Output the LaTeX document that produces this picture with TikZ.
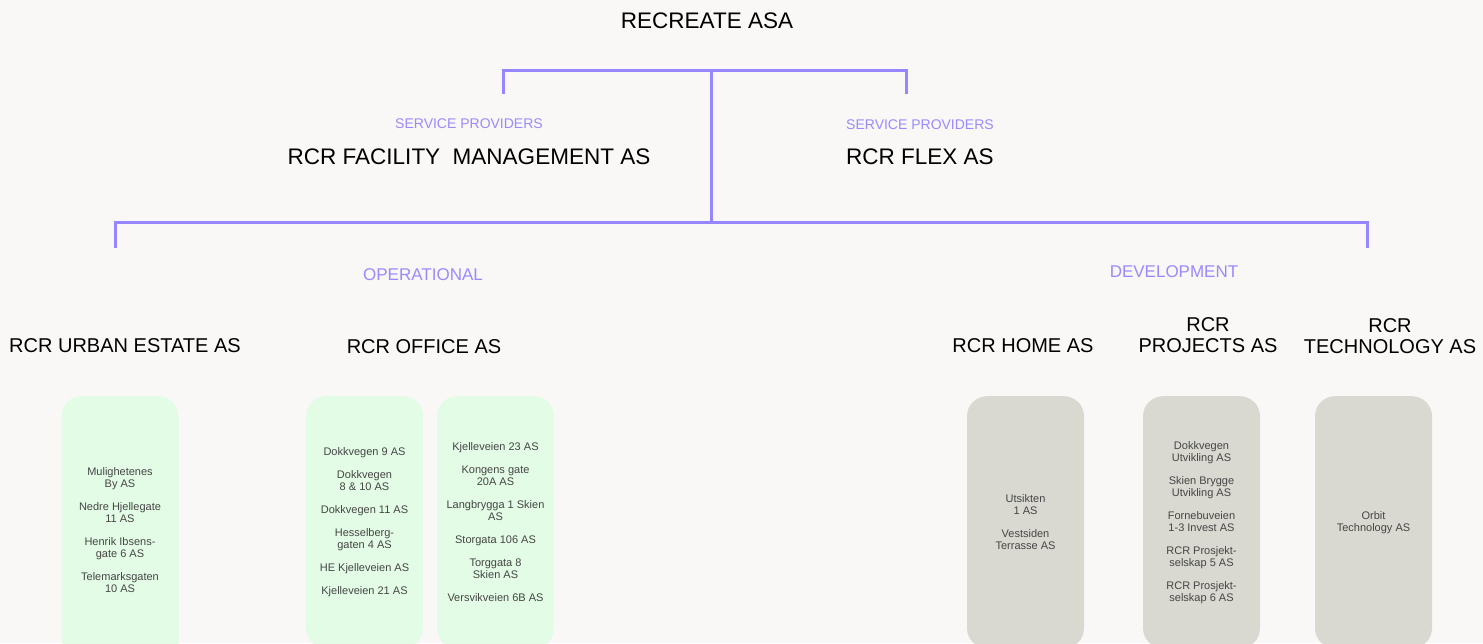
\documentclass[tikz,border=0pt]{standalone}
\usepackage{fontspec}
\setmainfont{Liberation Sans}
\usepackage{xcolor}
\usetikzlibrary{positioning}
\definecolor{paper}{HTML}{F9F8F6}
\definecolor{linkline}{HTML}{9686FF}
\definecolor{taglabel}{HTML}{9B8AFB}
\definecolor{opgreen}{HTML}{E3FCE5}
\definecolor{devgrey}{HTML}{D9D9D1}
\definecolor{smalltext}{HTML}{454545}
\tikzset{
  topco/.style={font=\fontsize{22.5}{24}\selectfont, text=black},
  subco/.style={font=\fontsize{20}{21}\selectfont, align=center, text=black},
  tag/.style={font=\fontsize{14}{15}\selectfont, text=taglabel},
  branch/.style={font=\fontsize{17}{18}\selectfont, text=taglabel},
  link/.style={draw=linkline, line width=3pt},
  holding/.style={anchor=north, rounded corners=20pt, minimum width=117pt,
    minimum height=252pt, align=center, text=smalltext,
    font=\fontsize{11}{12}\selectfont},
  opbox/.style={holding, fill=opgreen},
  devbox/.style={holding, fill=devgrey}
}

\begin{document}
\begin{tikzpicture}[x=1pt,y=-1pt]
\fill[paper] (0,0) rectangle (1483,643);
\useasboundingbox (0,0) rectangle (1483,643);
\clip (0,0) rectangle (1483,643);

% top of the group
\node[topco] (root) at (707,21) {RECREATE ASA};
\node[tag] (fmtag) at (469,124) {SERVICE PROVIDERS};
\node[topco] (fm) at (469,157) {RCR FACILITY~ MANAGEMENT AS};
\node[tag] (flextag) at (920,125) {SERVICE PROVIDERS};
\node[topco] (flex) at (920,157) {RCR FLEX AS};

% brackets
\coordinate (topfork) at (711,70);
\coordinate (topleft) at (503,70);
\coordinate (topleftend) at (503,94);
\coordinate (topright) at (906,70);
\coordinate (toprightend) at (906,94);
\coordinate (lowfork) at (711,222);
\coordinate (lowleft) at (115,222);
\coordinate (lowleftend) at (115,248);
\coordinate (lowright) at (1367,222);
\coordinate (lowrightend) at (1367,248);
\draw[link] (topleftend) -- (topleft) -- (topright) -- (toprightend);
\draw[link] (topfork) -- (lowfork);
\draw[link] (lowleftend) -- (lowleft) -- (lowright) -- (lowrightend);

% operational side
\node[branch] (oper) at (423,275) {OPERATIONAL};
\node[subco] (urban) at (125,346) {RCR URBAN ESTATE AS};
\node[subco] (office) at (424,347) {RCR OFFICE AS};

\node[opbox, minimum height=268pt] (urbanbox) at (120,396) {Mulighetenes\\By AS\\[11pt]
  Nedre Hjellegate\\11 AS\\[11pt]
  Henrik Ibsens-\\gate 6 AS\\[11pt]
  Telemarksgaten\\10 AS};
\node[opbox] (officebox) at (364.5,396) {Dokkvegen 9 AS\\[11pt]
  Dokkvegen\\8 \& 10 AS\\[11pt]
  Dokkvegen 11 AS\\[11pt]
  Hesselberg-\\gaten 4 AS\\[11pt]
  HE Kjelleveien AS\\[11pt]
  Kjelleveien 21 AS};
\node[opbox] (officebox2) at (495.5,396) {Kjelleveien 23 AS\\[11pt]
  Kongens gate\\20A AS\\[11pt]
  Langbrygga 1 Skien\\AS\\[11pt]
  Storgata 106 AS\\[11pt]
  Torggata 8\\Skien AS\\[11pt]
  Versvikveien 6B AS};

% development side
\node[branch] (devel) at (1174,272) {DEVELOPMENT};
\node[subco] (home) at (1023,346) {RCR HOME AS};
\node[subco] (projects) at (1208,335) {RCR\\PROJECTS AS};
\node[subco] (tech) at (1390,336) {RCR\\TECHNOLOGY AS};

\node[devbox] (homebox) at (1025.5,396) {Utsikten\\1 AS\\[11pt]
  Vestsiden\\Terrasse AS};
\node[devbox] (projectsbox) at (1201.5,396) {Dokkvegen\\Utvikling AS\\[11pt]
  Skien Brygge\\Utvikling AS\\[11pt]
  Fornebuveien\\1-3 Invest AS\\[11pt]
  RCR Prosjekt-\\selskap 5 AS\\[11pt]
  RCR Prosjekt-\\selskap 6 AS};
\node[devbox] (techbox) at (1373.5,396) {Orbit\\Technology AS};
\end{tikzpicture}
\end{document}
